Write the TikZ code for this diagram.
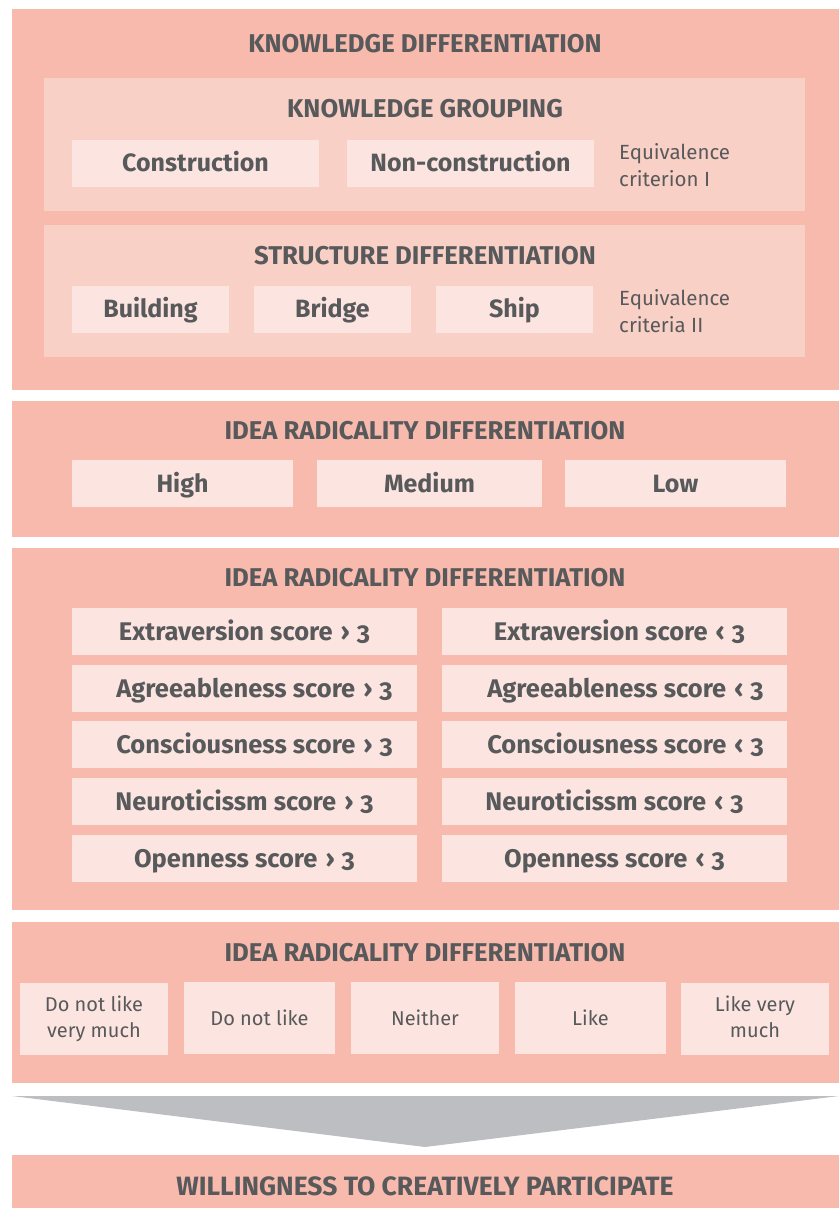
\documentclass[tikz,border=0pt]{standalone}
\usepackage{fontspec}
\setmainfont{Fira Sans}[Numbers=OldStyle]
\definecolor{outerc}{HTML}{F7BAAD}
\definecolor{midc}{HTML}{F9D0C6}
\definecolor{lightc}{HTML}{FCE5E0}
\definecolor{arrowc}{HTML}{BDBEC1}
\definecolor{txtc}{HTML}{58595B}
\tikzset{
  panel/.style={fill=outerc, draw=none},
  subpanel/.style={fill=midc, draw=none},
  ttl/.style={text=txtc, font=\fontsize{25.7}{30}\selectfont\bfseries, inner sep=0pt, text height=17.5pt, text depth=0pt, anchor=center},
  lab/.style={fill=lightc, text=txtc, font=\fontsize{25}{30}\selectfont\bfseries, inner sep=0pt, text height=17pt, text depth=0pt, anchor=center},
  sclab/.style={lab, font=\fontsize{25.5}{30}\selectfont\bfseries},
  slab/.style={fill=lightc, text=txtc, font=\fontsize{20}{26}\selectfont, inner sep=0pt, align=center, anchor=center},
  note/.style={text=txtc, font=\fontsize{20.5}{27}\selectfont, inner sep=0pt, align=left, anchor=west},
}
\begin{document}
\begin{tikzpicture}[x=1pt,y=-1pt]
\useasboundingbox (0,0) rectangle (839,1208);
% Panel 1
\fill[panel] (12,9) rectangle (839,390);
\node[ttl] (t1) at (425,44) {KNOWLEDGE DIFFERENTIATION};
\fill[subpanel] (44,78) rectangle (805,211);
\node[ttl] (t1a) at (425,109) {KNOWLEDGE GROUPING};
\node[lab, minimum width=247pt, minimum height=47pt] (con) at (195.5,163) {Construction};
\node[lab, minimum width=247pt, minimum height=47pt] (ncon) at (470.5,163) {Non-construction};
\node[note] (eq1) at (619,165) {Equivalence\\criterion I};
\fill[subpanel] (44,225) rectangle (805,357);
\node[ttl] (t1b) at (425,256) {STRUCTURE DIFFERENTIATION};
\node[lab, minimum width=157pt, minimum height=47pt] (bld) at (150.5,309) {Building};
\node[lab, minimum width=157pt, minimum height=47pt] (brg) at (332.5,309) {Bridge};
\node[lab, minimum width=157pt, minimum height=47pt] (shp) at (514.5,309) {Ship};
\node[note] (eq2) at (619,311) {Equivalence\\criteria II};
% Panel 2
\fill[panel] (12,401) rectangle (839,537);
\node[ttl] (t2) at (425,431) {IDEA RADICALITY DIFFERENTIATION};
\node[lab, minimum width=221pt, minimum height=47pt] (hi) at (182.5,483.5) {High};
\node[lab, minimum width=225pt, minimum height=47pt] (me) at (429.5,483.5) {Medium};
\node[lab, minimum width=221pt, minimum height=47pt] (lo) at (675.5,483.5) {Low};
% Panel 3
\fill[panel] (12,548) rectangle (839,910);
\node[ttl] (t3) at (425,578) {IDEA RADICALITY DIFFERENTIATION};
\foreach \i/\txt/\yc/\dl/\dr in {1/Extraversion/631.5/0/5, 2/Agreeableness/688.5/10/11, 3/Consciousness/744.5/10/11, 4/Neuroticissm/801.5/0/0, 5/Openness/858.5/0/0}{
  \fill[lightc] (72,\yc-23.5) rectangle (417,\yc+23.5);
  \fill[lightc] (442,\yc-23.5) rectangle (787,\yc+23.5);
  \node[sclab, fill=none] (g\i) at (244.5+\dl,\yc) {\txt\ score\kern2pt\ ›\kern1pt\ 3};
  \node[sclab, fill=none] (s\i) at (614.5+\dr,\yc) {\txt\ score\kern2pt\ ‹\kern1pt\ 3};
}
% Panel 4
\fill[panel] (12,922) rectangle (839,1083);
\node[ttl] (t4) at (425,953) {IDEA RADICALITY DIFFERENTIATION};
\node[slab, minimum width=148pt, minimum height=72pt] (l1) at (94,1019) {Do not like\\very much};
\node[slab, minimum width=151pt, minimum height=72pt] (l2) at (259.5,1018) {Do not like};
\node[slab, minimum width=148pt, minimum height=72pt] (l3) at (425,1018) {Neither};
\node[slab, minimum width=151pt, minimum height=72pt] (l4) at (590.5,1018) {Like};
\node[slab, minimum width=148pt, minimum height=72pt] (l5) at (755,1019) {Like very\\\vphantom{y}much};
% Arrow
\fill[arrowc] (12,1096) -- (839,1096) -- (425,1147) -- cycle;
% Panel 5
\fill[panel] (12,1155) rectangle (839,1208);
\node[ttl, font=\fontsize{26.5}{30}\selectfont\bfseries] (t5) at (425,1187) {WILLINGNESS TO CREATIVELY PARTICIPATE};
\end{tikzpicture}
\end{document}
